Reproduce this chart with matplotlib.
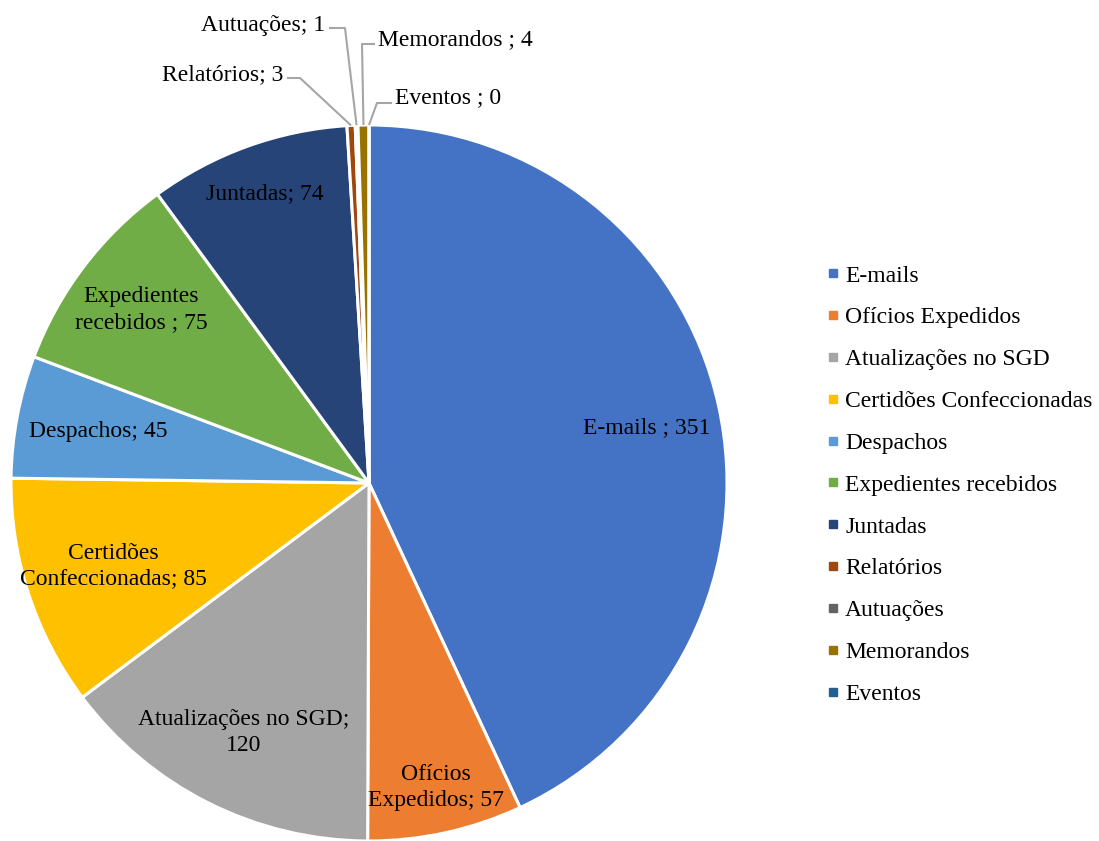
import numpy as np
import matplotlib.pyplot as plt
from matplotlib.lines import Line2D

plt.rcParams['font.family'] = ['Liberation Serif', 'DejaVu Serif']

categories = ['E-mails', 'Ofícios Expedidos', 'Atualizações no SGD', 'Certidões Confeccionadas',
              'Despachos', 'Expedientes recebidos', 'Juntadas', 'Relatórios', 'Autuações',
              'Memorandos', 'Eventos']
values = [351, 57, 120, 85, 45, 75, 74, 3, 1, 4, 0]
slice_labels = ['E-mails ; 351', 'Ofícios\nExpedidos; 57', 'Atualizações no SGD;\n120',
                'Certidões\nConfeccionadas; 85', 'Despachos; 45', 'Expedientes\nrecebidos ; 75',
                'Juntadas; 74', 'Relatórios; 3', 'Autuações; 1', 'Memorandos ; 4', 'Eventos ; 0']
colors = ['#4472C4', '#ED7D31', '#A5A5A5', '#FFC000', '#5B9BD5', '#70AD47',
          '#264478', '#9E480E', '#636363', '#997300', '#255E91']

# radial position of inside labels (fraction of radius)
label_r = [0.79, 0.87, 0.78, 0.75, 0.77, 0.80, 0.86]

W, H = 1099, 841
fig = plt.figure(figsize=(W / 100, H / 100), dpi=100)
ax = fig.add_axes([0, 0, 1, 1])

cx, cy, R = 369, H - 483, 358
wedges, _ = ax.pie(values, colors=colors, startangle=90, counterclock=False,
                   center=(cx, cy), radius=R,
                   wedgeprops=dict(edgecolor='white', linewidth=2.2))
ax.set_xlim(0, W)
ax.set_ylim(0, H)
ax.axis('off')

fs = 17
for i, w in enumerate(wedges[:7]):
    mid = np.deg2rad((w.theta1 + w.theta2) / 2 - (1.2 if i == 0 else 0))
    x = cx + label_r[i] * R * np.cos(mid)
    y = cy + label_r[i] * R * np.sin(mid)
    ax.text(x, y, slice_labels[i], ha='center', va='center', fontsize=fs,
            linespacing=1.3)

# small slices at the top: labels outside with leader lines
# (text x, text y, ha, elbow x, elbow y) in pixel coords from top
outside = {
    7: (283, 75, 'right', 300, 78),
    8: (325, 25, 'right', 345, 28),
    9: (378, 40, 'left', 362, 44),
    10: (395, 98, 'left', 377, 103),
}
for i, (tx, ty, ha, ex, ey) in outside.items():
    w = wedges[i]
    mid = np.deg2rad((w.theta1 + w.theta2) / 2)
    px = cx + R * np.cos(mid)
    py = cy + R * np.sin(mid)
    endx = tx + 4 if ha == 'right' else tx - 3
    ax.plot([px, ex, endx], [py, H - ey, H - ey], color='#A6A6A6', lw=1.5,
            solid_capstyle='butt')
    ax.text(tx, H - ty, slice_labels[i], ha=ha, va='center', fontsize=fs)

handles = [Line2D([], [], marker='s', linestyle='none', markersize=6,
                  markerfacecolor=c, markeredgecolor=c) for c in colors]
ax.legend(handles, categories, loc='center left', bbox_to_anchor=(818 / W, 1 - 485 / H),
          frameon=False, fontsize=fs, handlelength=0.5, handletextpad=0.25,
          labelspacing=0.86, borderaxespad=0)

fig.savefig('out.png', dpi=100)
